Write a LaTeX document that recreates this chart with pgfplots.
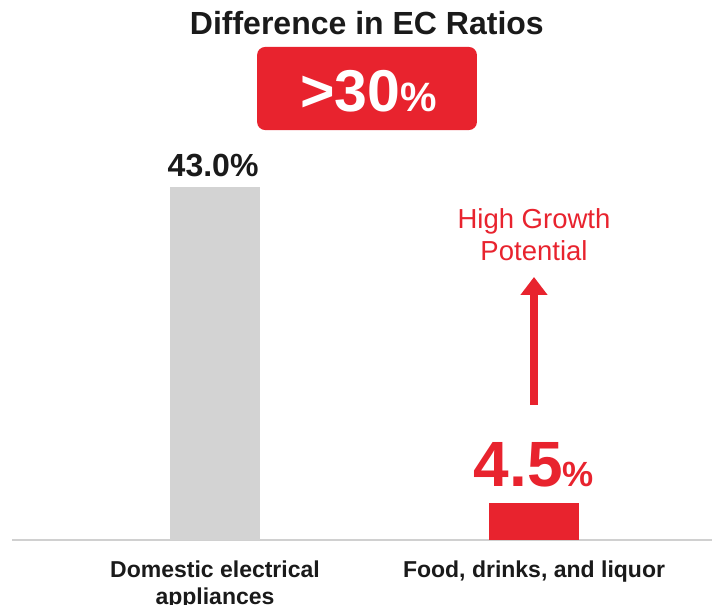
\documentclass[border=0pt]{standalone}
\usepackage{pgfplots}
\pgfplotsset{compat=1.18}
\usepackage{fontspec}
\setmainfont{Liberation Sans}
\usetikzlibrary{arrows.meta}
\definecolor{ecred}{HTML}{E8232E}
\definecolor{barg}{HTML}{D3D3D3}
\definecolor{axg}{HTML}{D0D0D0}
\definecolor{txt}{HTML}{1A1A1A}
\begin{document}
\begin{tikzpicture}
\begin{axis}[
  at={(0,0)}, anchor=south west,
  scale only axis, width=700bp, height=540bp,
  xmin=-0.6364, xmax=1.558, ymin=0, ymax=65.78,
  axis x line*=bottom, axis y line=none,
  axis line style={draw=axg, line width=2bp},
  xtick={0,1}, xticklabels={{Domestic electrical\\appliances},{Food, drinks, and liquor}},
  xtick style={draw=none},
  xticklabel style={anchor=north, inner sep=0pt, yshift=-16bp, align=center, text=txt,
    font=\fontsize{23bp}{27bp}\selectfont\bfseries},
  ybar, bar width=90bp, bar shift=0pt, clip=false,
]
\addplot[fill=barg, draw=none] coordinates {(0,43.0)};
\addplot[fill=ecred, draw=none] coordinates {(1,4.5)};
\node[anchor=base, text=txt, font=\fontsize{32bp}{32bp}\selectfont\bfseries] at (axis cs:0.476,61.6) {Difference in EC Ratios};
\fill[ecred, rounded corners=8bp] (axis cs:0.132,49.94) rectangle (axis cs:0.821,60.06);
\node[anchor=base, text=white, font=\bfseries, inner sep=0pt] at (axis cs:0.482,52.14) {{\fontsize{59bp}{59bp}\selectfont >30}{\fontsize{41bp}{41bp}\selectfont\%}};
\node[anchor=base, text=txt, font=\fontsize{32bp}{32bp}\selectfont\bfseries, inner sep=0pt] at (axis cs:-0.006,44.34) {43.0\%};
\node[anchor=base, text=ecred, font=\bfseries, inner sep=0pt] at (axis cs:1.0,6.46) {{\fontsize{64bp}{64bp}\selectfont 4.5}{\fontsize{35bp}{35bp}\selectfont\%}};
\node[anchor=base, text=ecred, font=\fontsize{27.5bp}{27.5bp}\selectfont, inner sep=0pt] at (axis cs:1.0,38.0) {High Growth};
\node[anchor=base, text=ecred, font=\fontsize{27.5bp}{27.5bp}\selectfont, inner sep=0pt] at (axis cs:1.0,33.99) {Potential};
\draw[ecred, line width=8bp, -{Triangle[length=18bp,width=26bp]}] (axis cs:1.0,16.45) -- (axis cs:1.0,32.04);
\end{axis}
\pgfresetboundingbox
\path (-12bp,-65bp) rectangle (700bp,540bp);
\end{tikzpicture}
\end{document}
